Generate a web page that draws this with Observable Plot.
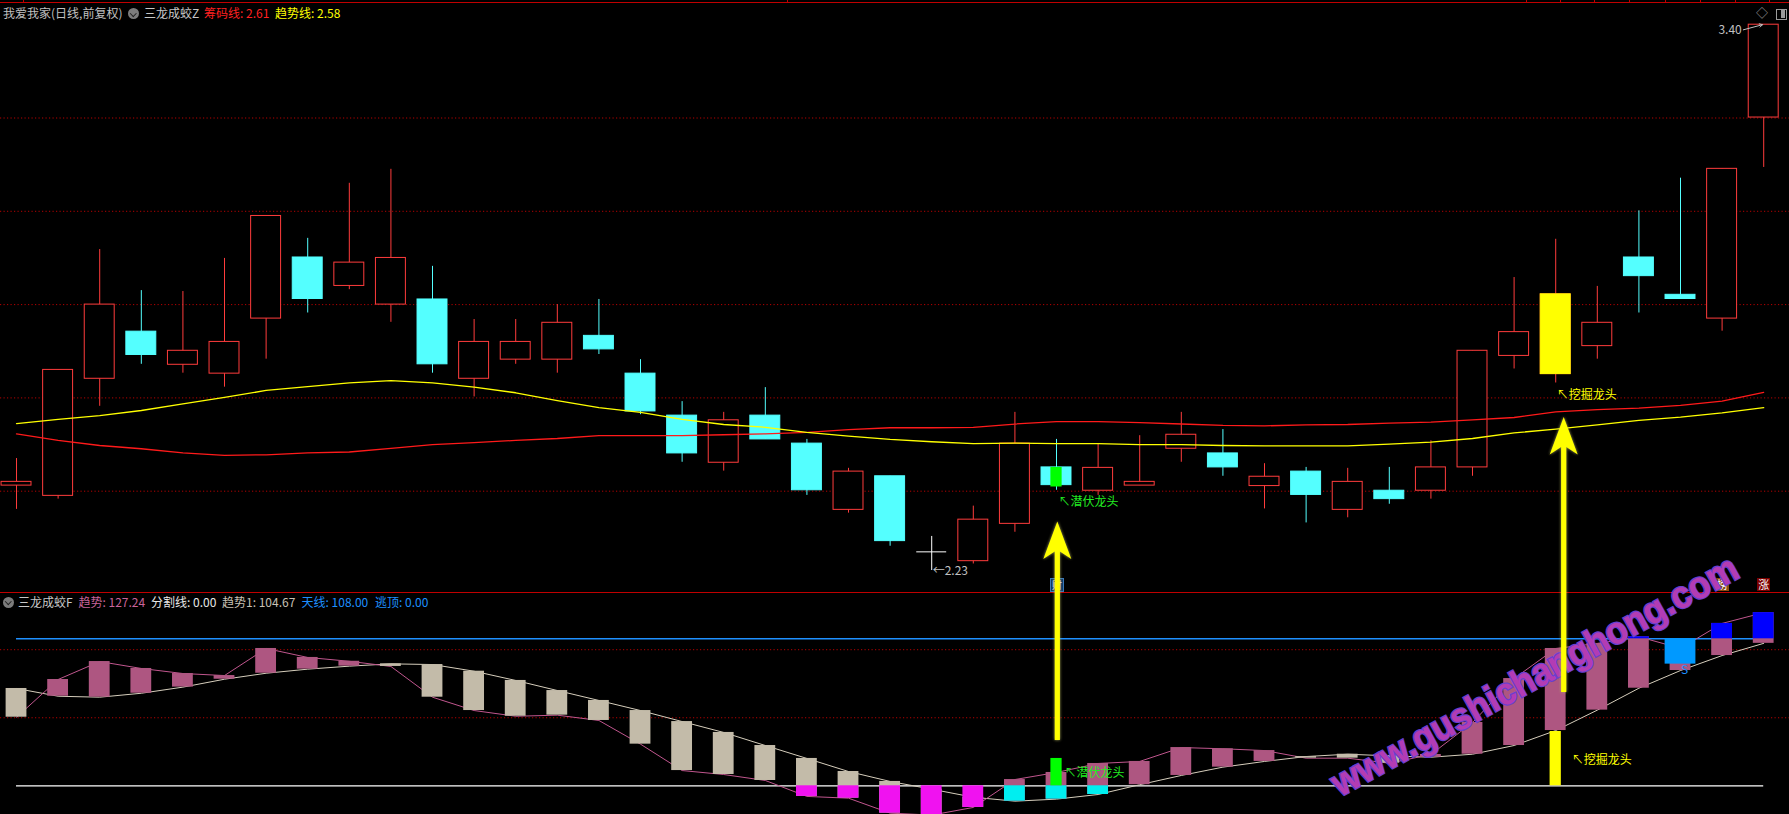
<!DOCTYPE html>
<html><head><meta charset="utf-8">
<script src="https://cdn.jsdelivr.net/npm/d3@7"></script>
<script src="https://cdn.jsdelivr.net/npm/@observablehq/plot@0.6"></script>
<style>
html,body{margin:0;padding:0;background:#000;width:1789px;height:814px;overflow:hidden;}
#wrap{position:relative;width:1789px;height:814px;background:#000;overflow:hidden;font-family:"Noto Sans CJK SC","Noto Sans",sans-serif;font-size:12px;}
.abs{position:absolute;white-space:nowrap;line-height:14px;}
.icon{position:absolute;width:11px;height:11px;border-radius:50%;background:#7c7c7c;}
.icon:after{content:"";position:absolute;left:3px;top:2.5px;width:3.5px;height:3.5px;border-right:1.6px solid #222;border-bottom:1.6px solid #222;transform:rotate(45deg);}
.badge{position:absolute;width:13px;height:13px;color:#fff;font-size:11px;line-height:13px;text-align:center;}
svg.plot{display:block;}
</style></head><body>
<div id="wrap">
  <div id="top" style="position:absolute;left:0;top:0"></div>
  <div id="bot" style="position:absolute;left:0;top:592px"></div>
</div>
<script>
// ---------------- DATA ----------------
const idx = d3.range(1, 44);
const open  = [2.412,2.390,2.641,2.742,2.671,2.652,2.770,2.901,2.840,2.800,2.811,2.641,2.682,2.682,2.733,2.652,2.562,2.461,2.562,2.502,2.360,2.432,2.270,2.250,2.330,2.451,2.401,2.412,2.491,2.481,2.411,2.442,2.360,2.401,2.401,2.451,2.690,2.651,2.711,2.901,2.821,2.770,3.201];
const close = [2.420,2.660,2.800,2.692,2.701,2.720,2.990,2.812,2.890,2.900,2.672,2.720,2.720,2.761,2.704,2.571,2.481,2.552,2.511,2.402,2.442,2.293,2.270,2.339,2.502,2.413,2.450,2.420,2.521,2.451,2.431,2.392,2.420,2.383,2.451,2.701,2.741,2.822,2.761,2.861,2.812,3.091,3.400];
const high  = [2.470,2.660,2.918,2.830,2.828,2.899,2.990,2.942,3.060,3.090,2.882,2.768,2.768,2.800,2.811,2.682,2.592,2.569,2.622,2.511,2.449,2.432,2.303,2.368,2.569,2.511,2.502,2.519,2.569,2.532,2.459,2.451,2.449,2.451,2.508,2.701,2.858,2.940,2.839,3.001,3.071,3.091,3.400];
const low   = [2.361,2.383,2.582,2.672,2.653,2.623,2.683,2.782,2.832,2.762,2.653,2.602,2.672,2.653,2.693,2.564,2.462,2.443,2.511,2.391,2.353,2.282,2.230,2.244,2.312,2.402,2.391,2.412,2.462,2.432,2.362,2.332,2.343,2.372,2.383,2.432,2.662,2.632,2.683,2.782,2.812,2.743,3.094];
// 趋势线 (yellow) and 筹码线 (red)
const trendLine = [2.545,2.554,2.562,2.573,2.587,2.601,2.616,2.624,2.632,2.637,2.632,2.623,2.611,2.594,2.579,2.569,2.554,2.543,2.537,2.526,2.518,2.511,2.506,2.502,2.503,2.502,2.502,2.500,2.500,2.498,2.497,2.497,2.497,2.501,2.505,2.513,2.525,2.533,2.542,2.552,2.559,2.568,2.579];
const chipLine  = [2.523,2.509,2.498,2.491,2.482,2.477,2.478,2.482,2.484,2.492,2.500,2.504,2.509,2.513,2.519,2.519,2.519,2.521,2.523,2.526,2.532,2.536,2.536,2.537,2.544,2.549,2.549,2.547,2.544,2.541,2.540,2.542,2.543,2.546,2.548,2.553,2.558,2.570,2.575,2.578,2.584,2.593,2.612];
// lower panel: 趋势, 趋势1
const trend  = [50.4,78.1,91.3,86.2,82.5,81.0,100.9,94.3,91.5,87.7,65.1,55.3,51.1,51.9,48.0,30.6,11.2,8.3,3.9,-7.8,-9.1,-20.1,-21.5,-15.9,4.6,9.8,16.4,17.9,28.1,27.2,25.9,20.3,20.3,16.6,23.0,46.5,78.8,100.9,104.6,109.5,101.0,119.3,127.24];
const trend1 = [71.5,65.8,65.1,68.0,72.5,78.3,82.7,85.7,87.9,89.6,89.1,84.2,77.4,70.0,62.7,55.3,47.2,39.2,29.6,20.1,10.5,3.2,-2.5,-8.4,-11.3,-9.8,-6.4,0.8,7.6,13.7,17.9,21.5,23.2,22.0,21.0,23.2,29.6,40.6,55.6,71.7,84.7,95.7,104.67];
const skyLine = 108;          // 天线
const splitLine = 0;          // 分割线
const escapeValue = 0;        // 逃顶 (last)
const gridPrices = [2.4, 2.6, 2.8, 3.0, 3.2];
const gridValues = [50, 100];
const lurkIdx = [26];  const lurkTop = [20.1];   // 潜伏龙头
const digIdx  = [38];  const digTop  = [39.9];   // 挖掘龙头
const escIdx  = [41];  const escLow  = [89.4];   // 逃顶 box
const sellIdx = [41];                             // S
const arrowIdx = [26, 38];
const arrowFromValue = [33.3, 68.6];
const arrowToPrice = [2.334, 2.558];

// ---------------- CHART ----------------
const W = 1789, TOP_H = 592, BOT_H = 222;
const FONT = '"Noto Sans CJK SC","Noto Sans",sans-serif';
const xDom = [0.615, 43.62];
const UP = "#ff3c3c", DN = "#54ffff";
const col = d => d.close > d.open ? UP : d.close < d.open ? DN : "#ffffff";
const C = idx.map((i, k) => ({i, open: open[k], high: high[k], low: low[k], close: close[k], chip: chipLine[k], tl: trendLine[k]}));
const normal = C.filter(d => d.close !== d.open);
const doji = C.filter(d => d.close === d.open);
const bw = 0.36;
const fmt2 = d3.format(".2f");

const topPlot = Plot.plot({
  width: W, height: TOP_H, margin: 0, marginTop: 24.2, marginBottom: 8,
  x: {domain: xDom, axis: null},
  y: {domain: [2.2, 3.4], axis: null},
  style: {background: "#000", overflow: "visible", fontFamily: FONT, fontSize: "12px"},
  marks: [
    Plot.ruleY(gridPrices, {stroke: "#b40000", strokeDasharray: "1.2,2.3"}),
    Plot.ruleX(C, {x: "i", y1: "low", y2: "high", stroke: col}),
    Plot.rect(normal, {x1: d => d.i - bw, x2: d => d.i + bw, y1: "open", y2: "close",
      fill: d => d.close > d.open ? "#000" : DN, stroke: col}),
    Plot.ruleY(doji, {y: "open", x1: d => d.i - bw, x2: d => d.i + bw, stroke: "#ffffff"}),
    Plot.rect(C.filter(d => digIdx.includes(d.i)), {x1: d => d.i - bw, x2: d => d.i + bw, y1: "open", y2: "close", fill: "#ffff00", stroke: "#ffff00"}),
    Plot.rect(C.filter(d => lurkIdx.includes(d.i)), {x1: d => d.i - 0.135, x2: d => d.i + 0.135, y1: "open", y2: d => d.close - 0.004, fill: "#00ff00"}),
    Plot.line(C, {x: "i", y: "chip", stroke: "#ff1a1a", strokeWidth: 1.3}),
    Plot.line(C, {x: "i", y: "tl", stroke: "#ffff00", strokeWidth: 1.3}),
    Plot.text(C.filter(d => lurkIdx.includes(d.i)), {x: "i", y: "low", text: () => "↖潜伏龙头", dx: 2, dy: 12, textAnchor: "start", fill: "#22ee22", fontSize: 12, fontFamily: FONT}),
    Plot.text(C.filter(d => digIdx.includes(d.i)), {x: "i", y: "low", text: () => "↖挖掘龙头", dx: 1, dy: 12.5, textAnchor: "start", fill: "#ffff00", fontSize: 12, fontFamily: FONT}),
    Plot.text([C[d3.maxIndex(C, d => d.high)]], {x: "i", y: "high", text: d => fmt2(d.high), dx: -22, dy: 5, textAnchor: "end", fill: "#c0c0c0", fontSize: 12, fontFamily: FONT}),
    Plot.arrow([C[d3.maxIndex(C, d => d.high)]], {x1: d => d.i - 0.49, y1: d => d.high - 0.011, x2: d => d.i - 0.03, y2: "high", stroke: "#c0c0c0", strokeWidth: 1, headLength: 5}),
    Plot.text([C[d3.minIndex(C, d => d.low)]], {x: "i", y: "low", text: d => "←" + fmt2(d.low), dx: 1, dy: 1, textAnchor: "start", fill: "#c0c0c0", fontSize: 12, fontFamily: FONT})
  ]
});
document.getElementById("top").appendChild(topPlot);

const B = idx.map((i, k) => ({i, t: trend[k], t1: trend1[k]}));
const PINK = "#ae5681", BEIGE = "#c3bba9";
const bbw = 0.25;
const bottomPlot = Plot.plot({
  width: W, height: BOT_H, margin: 0, marginTop: 16.37, marginBottom: 28.7,
  x: {domain: xDom, axis: null},
  y: {domain: [0, 130], axis: null},
  style: {background: "#000", overflow: "visible", fontFamily: FONT, fontSize: "12px"},
  marks: [
    Plot.ruleY(gridValues, {stroke: "#b40000", strokeDasharray: "1.2,2.3"}),
    Plot.ruleY([skyLine], {x1: 1, x2: 43, stroke: "#1e90ff", strokeWidth: 1.4}),
    Plot.ruleY([splitLine], {x1: 1, x2: 43, stroke: "#ffffff", strokeWidth: 1.2}),
    Plot.line(B, {x: "i", y: "t1", stroke: "#d6cebc", strokeWidth: 1}),
    Plot.line(B, {x: "i", y: "t", stroke: "#c0568e", strokeWidth: 1}),
    Plot.rect(B, {x1: d => d.i - bbw, x2: d => d.i + bbw, y1: "t", y2: "t1", fill: d => d.t >= d.t1 ? PINK : BEIGE}),
    Plot.rect(B.filter(d => Math.min(d.t, d.t1) < 0), {x1: d => d.i - bbw, x2: d => d.i + bbw, y1: 0, y2: d => Math.min(d.t, d.t1),
      fill: d => d.t < d.t1 ? "#f012f0" : "#00eef0"}),
    Plot.rect(B.filter(d => d.t > skyLine && d.t >= d.t1), {x1: d => d.i - bbw, x2: d => d.i + bbw, y1: skyLine, y2: "t", fill: "#0000ff"}),
    Plot.rect(escIdx.map((i, k) => ({i, lo: escLow[k]})), {x1: d => d.i - 0.37, x2: d => d.i + 0.37, y1: skyLine, y2: "lo", fill: "#0099ff"}),
    Plot.rect(lurkIdx.map((i, k) => ({i, v: lurkTop[k]})), {x1: d => d.i - 0.135, x2: d => d.i + 0.135, y1: 0, y2: "v", fill: "#00ff00"}),
    Plot.rect(digIdx.map((i, k) => ({i, v: digTop[k]})), {x1: d => d.i - 0.135, x2: d => d.i + 0.135, y1: 0, y2: "v", fill: "#ffff00"}),
    Plot.text(sellIdx.map(i => ({i, v: trend1[i - 1]})), {x: "i", y: "v", text: () => "S", dx: 4, dy: 0, fill: "#1e90ff", fontSize: 12, fontFamily: FONT}),
    Plot.text(lurkIdx.map(i => ({i})), {x: "i", y: 0, text: () => "↖潜伏龙头", dx: 8, dy: -13, textAnchor: "start", fill: "#22ee22", fontSize: 12, fontFamily: FONT}),
    Plot.text(digIdx.map(i => ({i})), {x: "i", y: 0, text: () => "↖挖掘龙头", dx: 16, dy: -26, textAnchor: "start", fill: "#ffff00", fontSize: 12, fontFamily: FONT})
  ]
});
document.getElementById("bot").appendChild(bottomPlot);

// ---------------- HEADERS & DECORATIONS ----------------
const wrap = document.getElementById("wrap");
function addText(txt, left, cy, color) {
  const d = document.createElement("div");
  d.className = "abs"; d.textContent = txt;
  d.style.left = left + "px"; d.style.top = (cy - 7) + "px"; d.style.color = color;
  wrap.appendChild(d); return d;
}
function addIcon(left, cy) {
  const d = document.createElement("div"); d.className = "icon";
  d.style.left = left + "px"; d.style.top = (cy - 5.5) + "px"; wrap.appendChild(d);
}
function addBox(left, top, w, h, bg, border) {
  const d = document.createElement("div"); d.style.position = "absolute";
  d.style.left = left + "px"; d.style.top = top + "px"; d.style.width = w + "px"; d.style.height = h + "px";
  d.style.background = bg; if (border) d.style.border = border; wrap.appendChild(d); return d;
}
// top border
addBox(0, 1.5, W, 1, "#c00000");
[23, 787, 1526, 1560, 1594, 1629, 1665, 1700, 1735, 1769].forEach(x => addBox(x, 0, 1, 2, "#c00000"));
// separator
addBox(0, 592, W, 1, "#c00000");

const last = a => a[a.length - 1];
addText("我爱我家(日线,前复权)", 3, 13, "#c0c0c0");
addIcon(128, 13.5);
addText("三龙成蛟Z", 144, 13, "#c8c8c8");
addText("筹码线: " + fmt2(last(chipLine)), 204, 13, "#ff2020");
addText("趋势线: " + fmt2(last(trendLine)), 275, 13, "#ffff00");

addIcon(2.5, 602);
addText("三龙成蛟F", 18, 601.7, "#c8c8c8");
addText("趋势: " + fmt2(last(trend)), 78.5, 601.7, "#c8649a");
addText("分割线: " + fmt2(splitLine), 151, 601.7, "#e8e8e8");
addText("趋势1: " + fmt2(last(trend1)), 222, 601.7, "#c8c0b4");
addText("天线: " + fmt2(skyLine), 301.6, 601.7, "#1e90ff");
addText("逃顶: " + fmt2(escapeValue), 375, 601.7, "#1e90ff");

// top-right icons
const dia = addText("◇", 1756, 13, "#9a9a9a"); dia.style.fontSize = "12px";
addBox(1776, 8.5, 9, 9, "transparent", "1px solid #9a9a9a");
addBox(1781, 9.5, 4, 8, "#9a9a9a");

// small badges
const cai = addBox(1050, 578, 12, 12, "#0f3766", "1px solid #3a78b8");
cai.className = "badge"; cai.textContent = "财"; cai.style.fontSize = "10px"; cai.style.lineHeight = "12px";
const bang = addBox(1716, 578.3, 12.7, 12.4, "#8b4a12"); bang.className = "badge"; bang.textContent = "榜";
const zhang = addBox(1757.3, 578.3, 12.7, 12.4, "#7a0000"); zhang.className = "badge"; zhang.textContent = "涨";

// ---------------- OVERLAY: watermark + arrows ----------------
const xs = topPlot.scale("x"), yTop = topPlot.scale("y"), yBot = bottomPlot.scale("y");
const ov = d3.select(wrap).append("svg")
  .attr("width", W).attr("height", 814)
  .style("position", "absolute").style("left", 0).style("top", 0).style("pointer-events", "none");
const defs = ov.append("defs");
defs.append("filter").attr("id", "glow").attr("x", "-50%").attr("y", "-5%").attr("width", "200%").attr("height", "110%")
  .append("feGaussianBlur").attr("stdDeviation", 1.6);

ov.append("text")
  .attr("transform", "translate(1340,797) rotate(-28.8)")
  .attr("font-family", '"Liberation Sans",Arial,sans-serif')
  .attr("font-size", 38).attr("font-weight", "bold")
  .attr("textLength", 458).attr("lengthAdjust", "spacingAndGlyphs")
  .attr("fill", "#b33cb3").attr("stroke", "#6a3fd0").attr("stroke-width", 2.6)
  .attr("paint-order", "stroke")
  .text("www.gushichanghong.com");

const nudge = [1.3, 8.5];
arrowIdx.forEach((i, k) => {
  const x = xs.apply(i) + nudge[k];
  const yb = yBot.apply(arrowFromValue[k]) + 592;
  const yt = yTop.apply(arrowToPrice[k]);
  const hl = 37.5, hw = 14, sw = 2.6, notch = 30;
  const p = `M${x},${yt} L${x + hw},${yt + hl} L${x + sw},${yt + notch} L${x + sw},${yb} L${x - sw},${yb} L${x - sw},${yt + notch} L${x - hw},${yt + hl} Z`;
  ov.append("path").attr("d", p).attr("fill", "#b8b860").attr("filter", "url(#glow)").attr("opacity", 0.9);
  ov.append("path").attr("d", p).attr("fill", "#ffff00");
});
</script>
</body></html>
